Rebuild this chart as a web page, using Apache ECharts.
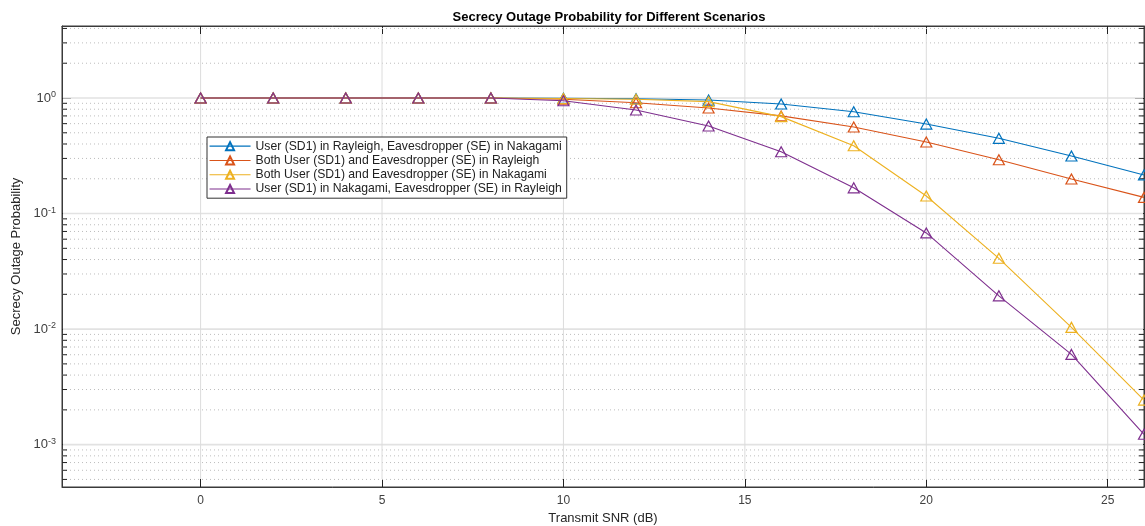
<!DOCTYPE html>
<html>
<head>
<meta charset="utf-8">
<script src="https://cdn.jsdelivr.net/npm/echarts@6/dist/echarts.min.js"></script>
<style>
html, body { margin: 0; padding: 0; background: #fff; }
#chart { width: 1145px; height: 526px; }
</style>
</head>
<body>
<div id="chart"></div>
<script>
var snr = [0, 2, 4, 6, 8, 10, 12, 14, 16, 18, 20, 22, 24, 26];
var rayNak = [1, 1, 1, 1, 1, 0.995, 0.985, 0.96, 0.887, 0.761, 0.595, 0.448, 0.315, 0.216];
var bothRay = [1, 1, 1, 1, 1, 0.975, 0.91, 0.82, 0.70, 0.561, 0.416, 0.292, 0.199, 0.138];
var bothNak = [1, 1, 1, 1, 1, 0.99, 0.975, 0.93, 0.69, 0.386, 0.142, 0.041, 0.01035, 0.00243];
var nakRay = [1, 1, 1, 1, 1, 0.947, 0.787, 0.572, 0.343, 0.167, 0.068, 0.0194, 0.00604, 0.00123];

var names = [
  'User (SD1) in Rayleigh, Eavesdropper (SE) in Nakagami',
  'Both User (SD1) and Eavesdropper (SE) in Rayleigh',
  'Both User (SD1) and Eavesdropper (SE) in Nakagami',
  'User (SD1) in Nakagami, Eavesdropper (SE) in Rayleigh'
];
var colors = ['#0072BD', '#D95319', '#EDB120', '#7E2F8E'];
var xTicks = [0, 5, 10, 15, 20, 25];
var yMajor = [0.001, 0.01, 0.1, 1];

var xMin = -3.82, xMax = 26;
var yMin = 4.3e-4, yMax = 4.2;

// minor log grid values (2..9 x 10^k)
var minorVals = [];
for (var k = -4; k <= 0; k++) {
  for (var m = 2; m <= 9; m++) {
    var v = m * Math.pow(10, k);
    if (v > yMin && v < yMax) minorVals.push([xMin, v]);
  }
}

var font = 'Liberation Sans, Arial, Helvetica, sans-serif';

function pair(a) {
  return snr.map(function (x, i) { return [x, a[i]]; });
}

var chart = echarts.init(document.getElementById('chart'));

var lineSeries = [rayNak, bothRay, bothNak, nakRay].map(function (d, i) {
  return {
    name: names[i],
    type: 'line',
    data: pair(d),
    symbol: 'triangle',
    symbolSize: [11, 10],
    showSymbol: true,
    lineStyle: { color: colors[i], width: 1.1 },
    itemStyle: { color: 'rgba(255,255,255,0)', borderColor: colors[i], borderWidth: 1.2 },
    z: 3 + i
  };
});

var tickStyle = { stroke: '#222', lineWidth: 1 };

var option = {
  backgroundColor: '#fff',
  animation: false,
  color: colors,
  title: {
    text: 'Secrecy Outage Probability for Different Scenarios',
    left: 604,
    top: 6,
    textAlign: 'center',
    textStyle: { fontFamily: font, fontSize: 13, fontWeight: 'bold', color: '#000' }
  },
  legend: {
    orient: 'vertical',
    left: 207,
    top: 137,
    data: names,
    backgroundColor: '#fff',
    borderColor: '#333',
    borderWidth: 1,
    padding: [2, 5, 2, 2],
    itemGap: 0,
    itemWidth: 41,
    itemHeight: 10,
    lineStyle: { width: 1.1 },
    textStyle: { fontFamily: font, fontSize: 12.2, color: '#222', lineHeight: 14.3 }
  },
  grid: {
    left: 62, right: 1, top: 26, bottom: 39,
    outerBoundsMode: 'none',
    containLabel: false,
    show: true, borderColor: '#3a3a3a', borderWidth: 1
  },
  xAxis: [{
    type: 'value',
    min: xMin, max: xMax,
    position: 'bottom',
    name: 'Transmit SNR (dB)',
    nameLocation: 'middle',
    nameGap: 25,
    nameTextStyle: { fontFamily: font, fontSize: 13, color: '#262626' },
    axisLine: { onZero: false, lineStyle: { color: '#3a3a3a' } },
    axisTick: { inside: true, length: 8, customValues: xTicks, lineStyle: { color: '#222' } },
    axisLabel: { fontFamily: font, fontSize: 12, color: '#404040', margin: 8, customValues: xTicks },
    splitLine: { show: false }
  }, {
    type: 'value',
    min: xMin, max: xMax,
    position: 'top',
    axisLine: { onZero: false, lineStyle: { color: '#3a3a3a' } },
    axisTick: { inside: true, length: 8, customValues: xTicks, lineStyle: { color: '#222' } },
    axisLabel: { show: false },
    splitLine: { show: false }
  }],
  yAxis: [{
    type: 'log',
    min: yMin, max: yMax,
    position: 'left',
    name: 'Secrecy Outage Probability',
    nameLocation: 'middle',
    nameGap: 33,
    nameTextStyle: { fontFamily: font, fontSize: 13, color: '#262626' },
    axisLine: { onZero: false, lineStyle: { color: '#3a3a3a' } },
    axisTick: { inside: true, length: 9, customValues: yMajor, lineStyle: { color: '#222' } },
    axisLabel: {
      fontFamily: font, fontSize: 13, color: '#404040', margin: 6,
      customValues: yMajor,
      formatter: function (v) {
        var e = Math.round(Math.log10(v));
        return '10{s|' + e + '}';
      },
      rich: { s: { fontSize: 9, verticalAlign: 'top', padding: [0, 0, 7, 0], fontFamily: font, color: '#404040' } }
    },
    splitLine: { show: false }
  }, {
    type: 'log',
    min: yMin, max: yMax,
    position: 'right',
    axisLine: { onZero: false, lineStyle: { color: '#3a3a3a' } },
    axisTick: { inside: true, length: 9, customValues: yMajor, lineStyle: { color: '#222' } },
    axisLabel: { show: false },
    splitLine: { show: false }
  }],
  series: [{
    // minor dotted grid + minor ticks
    type: 'custom',
    silent: true,
    z: 1,
    data: minorVals,
    encode: { x: 0, y: 1 },
    renderItem: function (params, api) {
      var v = api.value(1);
      var a = api.coord([xMin, v]);
      var b = api.coord([xMax, v]);
      return {
        type: 'group',
        children: [
          { type: 'line', shape: { x1: a[0], y1: a[1], x2: b[0], y2: b[1] }, style: { stroke: '#bdbdbd', lineWidth: 1, lineDash: [1, 3] } },
          { type: 'line', shape: { x1: a[0], y1: a[1], x2: a[0] + 5, y2: a[1] }, style: tickStyle },
          { type: 'line', shape: { x1: b[0], y1: b[1], x2: b[0] - 5, y2: b[1] }, style: tickStyle }
        ]
      };
    }
  }, {
    // major horizontal grid
    type: 'custom',
    silent: true,
    z: 1,
    data: yMajor.map(function (v) { return [xMin, v]; }),
    encode: { x: 0, y: 1 },
    renderItem: function (params, api) {
      var v = api.value(1);
      var a = api.coord([xMin, v]);
      var b = api.coord([xMax, v]);
      return { type: 'line', shape: { x1: a[0] + 1, y1: a[1], x2: b[0] - 1, y2: b[1] }, style: { stroke: '#e2e2e2', lineWidth: 1.6 } };
    }
  }, {
    // major vertical grid
    type: 'custom',
    silent: true,
    z: 1,
    data: xTicks.map(function (x) { return [x, yMin]; }),
    encode: { x: 0, y: 1 },
    renderItem: function (params, api) {
      var x = api.value(0);
      var a = api.coord([x, yMin]);
      var b = api.coord([x, yMax]);
      return { type: 'line', shape: { x1: a[0], y1: a[1] - 8, x2: b[0], y2: b[1] + 8 }, style: { stroke: '#dcdcdc', lineWidth: 1 } };
    }
  }].concat(lineSeries)
};

chart.setOption(option);
window.onresize = chart.resize;
</script>
</body>
</html>
